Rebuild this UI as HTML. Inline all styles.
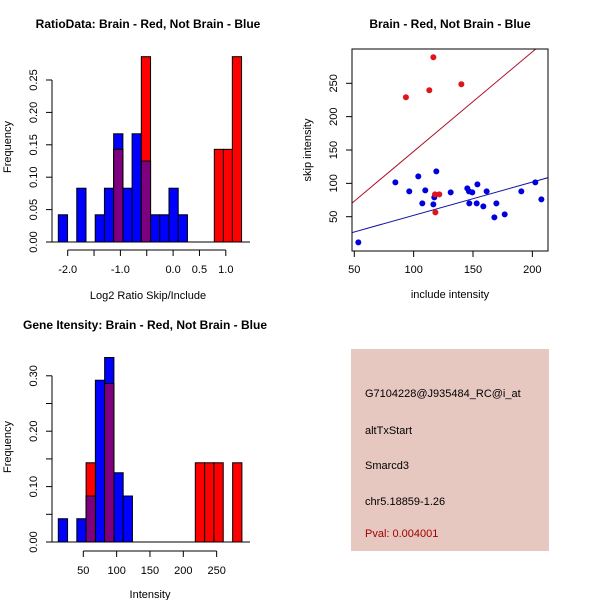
<!DOCTYPE html>
<html><head><meta charset="utf-8"><style>
body{margin:0;background:#fff;}
svg{display:block;font-family:"Liberation Sans",sans-serif;}
.t{font-size:12px;font-weight:bold;}
.l{font-size:11px;}
</style></head><body>
<svg id="s" width="600" height="600" viewBox="0 0 600 600">
<text class="t" x="148" y="28" text-anchor="middle">RatioData: Brain - Red, Not Brain - Blue</text>
<text class="t" x="450" y="28" text-anchor="middle">Brain - Red, Not Brain - Blue</text>
<text class="t" x="145" y="329" text-anchor="middle">Gene Itensity: Brain - Red, Not Brain - Blue</text>
<text class="l" x="148" y="299" text-anchor="middle">Log2 Ratio Skip/Include</text>
<text class="l" x="150" y="598" text-anchor="middle">Intensity</text>
<text class="l" x="450" y="298" text-anchor="middle">include intensity</text>
<text class="l" transform="translate(11,147) rotate(-90)" text-anchor="middle">Frequency</text>
<text class="l" transform="translate(11,447) rotate(-90)" text-anchor="middle">Frequency</text>
<text class="l" transform="translate(311,150) rotate(-90)" text-anchor="middle">skip intensity</text>
<g>
<rect x="351" y="349" width="198" height="202" fill="#e6c8c1"/>
<text class="l" x="365" y="397">G7104228@J935484_RC@i_at</text>
<text class="l" x="365" y="434">altTxStart</text>
<text class="l" x="365" y="469">Smarcd3</text>
<text class="l" x="365" y="505">chr5.18859-1.26</text>
<text class="l" x="365" y="537" fill="#a00000">Pval: 0.004001</text>
</g>
</svg>
<script>
// Ratio histogram data
const ratioBlueLefts=[-2.178,-1.828,-1.478,-1.303,-1.128,-0.953,-0.778,-0.603,-0.428,-0.253,-0.078,0.097];
const ratioBlueFreq=[0.042,0.083,0.042,0.083,0.167,0.083,0.167,0.125,0.042,0.042,0.083,0.042];
const ratioRedLefts=[-1.128,-0.603,0.782,0.953,1.124];
const ratioRedFreq=[0.143,0.286,0.143,0.143,0.286];
const ratioXTicks=[-2.0,-1.5,-1.0,-0.5,0.0,0.5,1.0];
const ratioXLabels=["-2.0","","-1.0","","0.0","0.5","1.0"];
const ratioYTicks=[0,0.05,0.10,0.15,0.20,0.25];
const ratioYLabels=["0.00","0.05","0.10","0.15","0.20","0.25"];
// Intensity histogram data
const intBlueLefts=[12.5,40.3,54.2,68.1,82,95.9,109.8];
const intBlueFreq=[0.042,0.042,0.083,0.292,0.333,0.125,0.083];
const intRedLefts=[54.2,82,218,232,246,274];
const intRedFreq=[0.143,0.286,0.143,0.143,0.143,0.143];
const intXTicks=[50,100,150,200,250];
const intYTicks=[0,0.05,0.10,0.15,0.20,0.25,0.30];
const intYLabels=["0.00","","0.10","","0.20","","0.30"];
// Scatter data
const redInclude=[116.6,93.5,113.2,140.2,118,121.6,118.3];
const redSkip=[289,229,239.5,248.5,83.5,83.5,56.5];
const blueInclude=[53.4,84.6,96.3,103.9,107.3,109.8,116.6,117.4,119.1,131.2,145.2,146.6,146.9,149.4,153.1,153.7,158.7,161.5,168,169.7,176.7,190.7,202.5,207.6];
const blueSkip=[11.5,101.5,88,110.5,70,89.5,68.5,79,118,86.5,92.5,88,70,86.5,70,98.5,65.5,88,49,70,53.5,88,101.5,76];
const redFit=[-1.4,1.493];
const blueFit=[2.2,0.4986];
const scXTicks=[50,100,150,200];
const scYTicks=[50,100,150,200,250];

const svg=document.getElementById('s');
const NS='http://www.w3.org/2000/svg';
function mk(tag,attrs,parent){const e=document.createElementNS(NS,tag);for(const k in attrs)e.setAttribute(k,attrs[k]);(parent||svg).appendChild(e);return e;}
function txt(x,y,s,anchor,rot,parent){const e=mk('text',{x:x,y:y,'class':'l','text-anchor':anchor},parent);if(rot)e.setAttribute('transform','rotate(-90 '+x+' '+y+')');e.textContent=s;return e;}

function hist(name,xf,yf,bl,bf,rl,rf,w,baseY){
  const g=mk('g',{});
  
  
  bl.forEach((l,i)=>{const r=mk('rect',{x:xf(l),y:yf(bf[i]),width:xf(l+w)-xf(l),height:baseY-yf(bf[i]),fill:'#0000ff',stroke:'#000','stroke-width':1},g);
    
    });
  rl.forEach((l,i)=>{const r=mk('rect',{x:xf(l),y:yf(rf[i]),width:xf(l+w)-xf(l),height:baseY-yf(rf[i]),fill:'#ff0000',stroke:'#000','stroke-width':1},g);
    
    
    bl.forEach((b,j)=>{if(Math.abs(b-l)<0.01*w+0.01){const m=Math.min(bf[j],rf[i]);
      const p=mk('rect',{x:xf(l),y:yf(m),width:xf(l+w)-xf(l),height:baseY-yf(m),fill:'#7f007f',stroke:'#000','stroke-width':1},g);
      
      }});});
}
function axes(name,xf,yf,xt,xl,yt,yl,axisY,axisX,x0,x1,y0,y1){
  const g=mk('g',{stroke:'#000','stroke-width':1,fill:'none'});
  
  
  mk('line',{x1:xf(x0),x2:xf(x1),y1:axisY,y2:axisY},g);
  xt.forEach(v=>mk('line',{x1:xf(v),x2:xf(v),y1:axisY,y2:axisY+6},g));
  xt.forEach((v,i)=>{const t=txt(xf(v),axisY+23,xl[i],'middle');});
  mk('line',{x1:axisX,x2:axisX,y1:yf(y0),y2:yf(y1)},g);
  yt.forEach(v=>mk('line',{x1:axisX,x2:axisX-6,y1:yf(v),y2:yf(v)},g));
  yt.forEach((v,i)=>{if(yl[i])txt(axisX-15,yf(v),yl[i],'middle',true);});
}
// Ratio histogram
const rx=v=>67.7+(v+2)*52.7, ry=v=>242-v*648;
mk('line',{x1:50,x2:250,y1:242,y2:242,stroke:'#000'});
hist('ratio',rx,ry,ratioBlueLefts,ratioBlueFreq,ratioRedLefts,ratioRedFreq,0.175,242);
axes('ratio',rx,ry,ratioXTicks,ratioXLabels,ratioYTicks,ratioYLabels,250,52,-2,1,0,0.25);
// Intensity histogram
const ix=v=>83.3+(v-50)*0.6667, iy=v=>542-v*554;
mk('line',{x1:50,x2:250,y1:542,y2:542,stroke:'#000'});
hist('intensity',ix,iy,intBlueLefts,intBlueFreq,intRedLefts,intRedFreq,13.9,542);
axes('intensity',ix,iy,intXTicks,intXTicks.map(String),intYTicks,intYLabels,551,52,50,250,0,0.30);
// Scatter
const sx=v=>354.3+(v-50)*1.187, sy=v=>216.7-(v-50)*0.667;
const sg=mk('g',{});


mk('defs',{},sg).innerHTML='<clipPath id="c"><rect x="352" y="49" width="196" height="202"/></clipPath>';
[[redFit,'#b0102a','red-fit-line'],[blueFit,'#1010a0','blue-fit-line']].forEach(([f,c,n])=>{
  const l=mk('line',{x1:sx(40),y1:sy(f[0]+f[1]*40),x2:sx(230),y2:sy(f[0]+f[1]*230),stroke:c,'stroke-width':1,'clip-path':'url(#c)'},sg);
  
  });
blueInclude.forEach((v,i)=>{const p=mk('circle',{cx:sx(v),cy:sy(blueSkip[i]),r:3,fill:'#0000dd'},sg);
  
  });
redInclude.forEach((v,i)=>{const p=mk('circle',{cx:sx(v),cy:sy(redSkip[i]),r:3,fill:'#e0141c'},sg);
  
  });
const box=mk('rect',{x:352,y:49,width:196,height:202,fill:'none',stroke:'#000'},sg);


scXTicks.forEach(v=>{mk('line',{x1:sx(v),x2:sx(v),y1:251,y2:257,stroke:'#000'},sg);txt(sx(v),273,String(v),'middle',false,sg);});
scYTicks.forEach(v=>{mk('line',{x1:352,x2:346,y1:sy(v),y2:sy(v),stroke:'#000'},sg);txt(337,sy(v),String(v),'middle',true,sg);});
</script>
</body></html>
